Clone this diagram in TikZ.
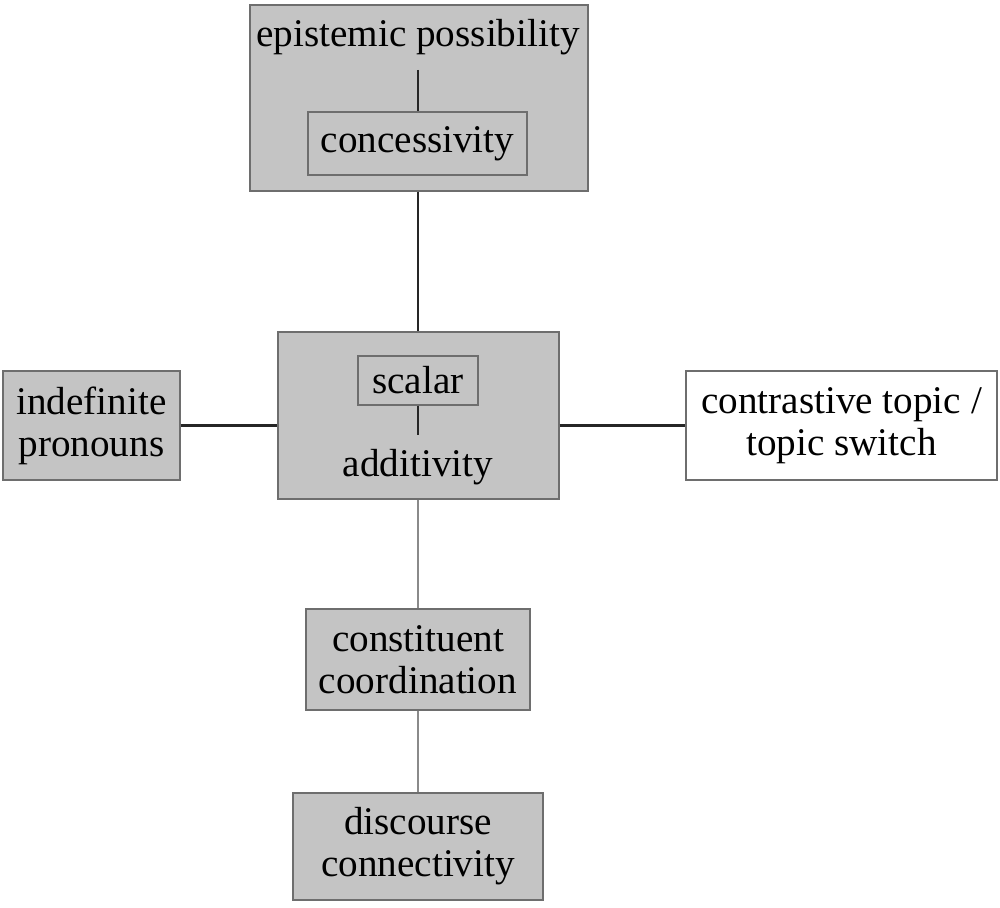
\documentclass[tikz,border=0pt]{standalone}
\usepackage{fontspec}
\setmainfont{Liberation Serif}
\usepackage{tikz}
\definecolor{boxfill}{HTML}{C4C4C4}
\definecolor{boxline}{HTML}{6E6E6E}
\definecolor{thinline}{HTML}{8A8A8A}
\tikzset{
    base/.style={font=\fontsize{22.3pt}{24pt}\selectfont, align=center},
    sembox/.style={base, rectangle, draw=boxline, line width=0.8pt, fill=boxfill, inner sep=0pt},
    plainbox/.style={sembox, fill=white},
    lbl/.style={base, inner sep=8pt, anchor=base},
    strong/.style={line width=1.2pt, black!85},
    weak/.style={line width=0.6pt, thinline}
}
\begin{document}
\begin{tikzpicture}[x=0.02cm, y=-0.02cm]
            \useasboundingbox (0,0) rectangle (1000,908);

            % epistemic possibility with concessivity inside
            \node[sembox, minimum width=6.76cm, minimum height=3.72cm] (epi) at (419,98) {};
            \node[lbl] (epilbl) at (418,47) {epistemic possibility};
            \node[sembox, minimum width=4.38cm, minimum height=1.26cm] (conc) at (417.5,143.5) {concessivity};
            \draw[strong] (epilbl.south) -- (epilbl.south |- conc.north);

            % additivity with scalar inside
            \node[sembox, minimum width=5.62cm, minimum height=3.34cm] (add) at (418.5,415.5) {};
            \node[sembox, minimum width=2.4cm, minimum height=0.98cm] (scal) at (418,380.5) {scalar};
            \node[lbl] (addlbl) at (418,477) {additivity};
            \draw[strong] (scal.south) -- (scal.south |- addlbl.north);

            % left and right neighbours
            \node[sembox, minimum width=3.54cm, minimum height=2.18cm] (indef) at (91.5,425.5) {indefinite\\pronouns};
            \node[plainbox, minimum width=6.22cm, minimum height=2.18cm] (ctop) at (841.5,425.5) {contrastive topic /\\topic switch};

            % chain below
            \node[sembox, minimum width=4.48cm, minimum height=2.02cm] (coord) at (418,659.5) {constituent\\coordination};
            \node[sembox, minimum width=5.0cm, minimum height=2.14cm] (disc) at (418,846.5) {discourse\\connectivity};

            % connecting edges
            \draw[strong] (epi.south -| scal.south) -- (add.north -| scal.south);
            \draw[strong] (indef.east) -- (indef.east -| add.west);
            \draw[strong] (ctop.west -| add.east) -- (ctop.west);
            \draw[weak] (add.south -| coord.north) -- (coord.north);
            \draw[weak] (coord.south) -- (disc.north);
        \end{tikzpicture}
\end{document}
